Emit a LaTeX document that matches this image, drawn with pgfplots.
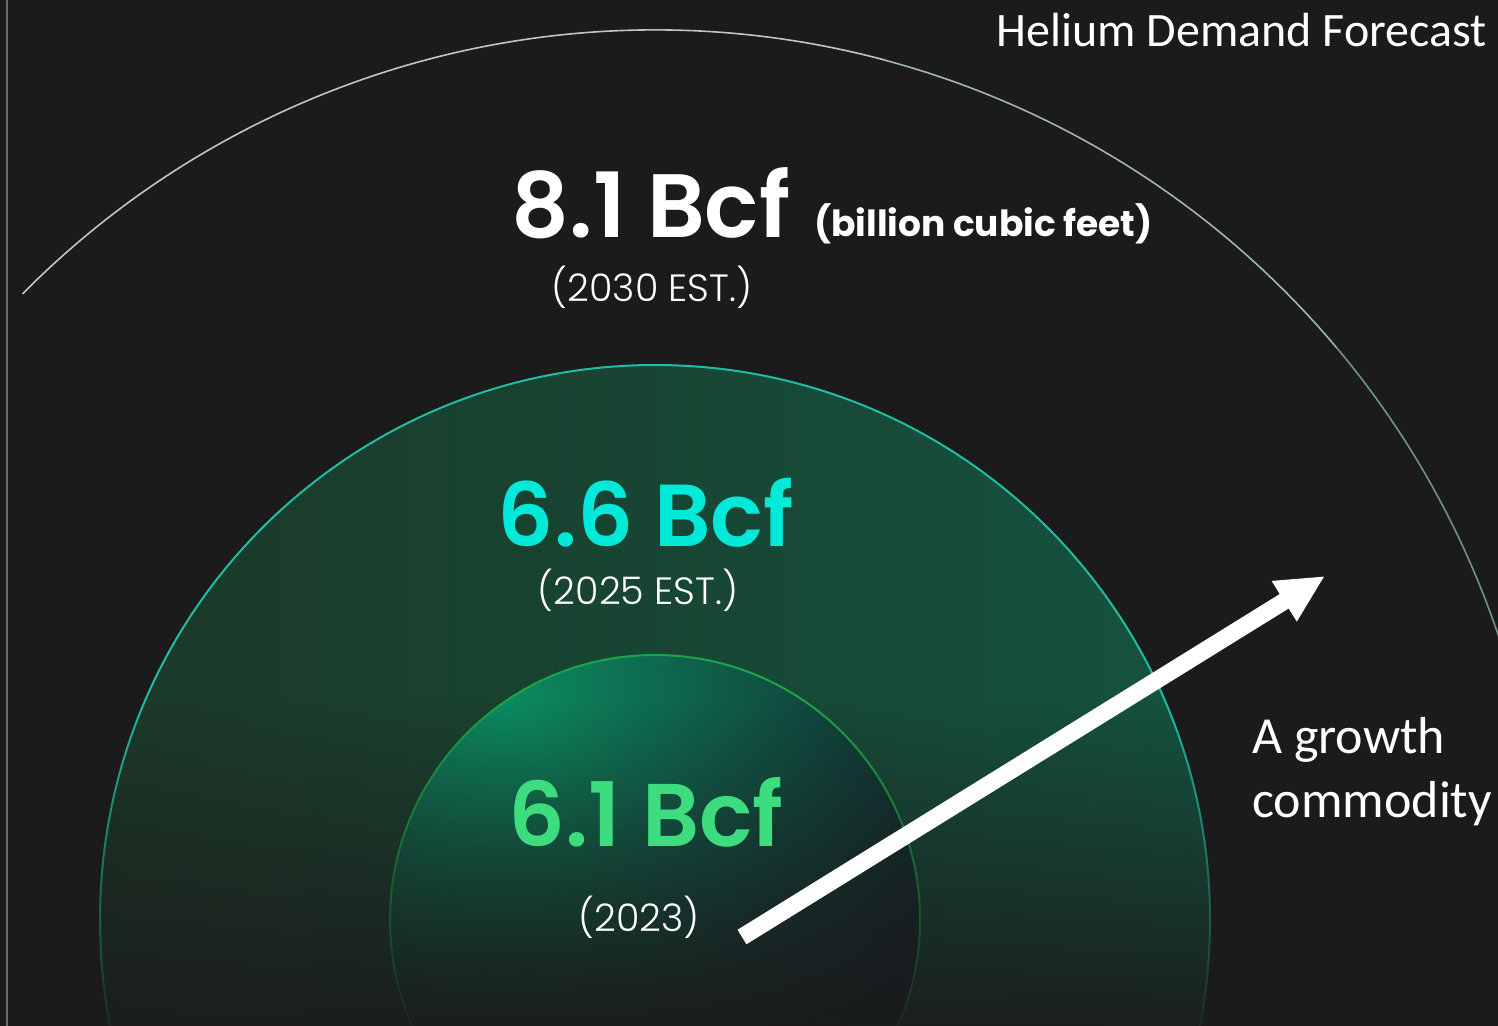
\documentclass[border=0pt]{standalone}
\usepackage{fontspec}
\setmainfont{Carlito}
\usepackage{pgfplots}
\pgfplotsset{compat=1.18}
\usepackage{pgfplotstable}
\usetikzlibrary{arrows.meta,fadings}
\IfFontExistsTF{Poppins SemiBold}{\newfontfamily\popbold{Poppins SemiBold}}{\newfontfamily\popbold{Poppins}[UprightFont={* Bold}]}
\IfFontExistsTF{Poppins Light}{\newfontfamily\poplight{Poppins Light}}{\newfontfamily\poplight{Poppins}}
\newfontfamily\popb{Poppins}[UprightFont={* Bold}]
\definecolor{bgc}{HTML}{1B1B1B}
\definecolor{cyanT}{HTML}{00E9D9}
\definecolor{greenT}{HTML}{3DDC7F}
\definecolor{midL}{HTML}{1C3828}
\definecolor{midR}{HTML}{14533F}
\definecolor{midStroke}{HTML}{1FBDA4}
\definecolor{inHi}{HTML}{0B8C61}
\definecolor{inLo}{HTML}{13232A}
\definecolor{inStroke}{HTML}{1CA548}
\definecolor{arcA}{HTML}{BAC8C2}
\definecolor{arcB}{HTML}{A0B7AD}
\definecolor{arcC}{HTML}{6F9584}
\definecolor{edgeL}{HTML}{6A6A6A}
\tikzfading[name=botfade, top color=transparent!100, bottom color=transparent!8]
% helium demand: year, Bcf, drawn radius (px)
\pgfplotstableread{
year value radius
2023 6.1 265
2025 6.6 555
2030 8.1 890
}\demand
\begin{document}
\begin{tikzpicture}
\fill[bgc] (-6pt,-6pt) rectangle (1504pt,1031pt);
\begin{axis}[name=ax, at={(0,0)}, anchor=south west,
  width=1498pt, height=1025pt, scale only axis,
  xmin=0, xmax=1498, ymin=0, ymax=1025, y dir=reverse,
  axis lines=none, clip=true]
\addplot[draw=none, mark=none] coordinates {(655,920)};
\fill[bgc] (axis cs:-5,-5) rectangle (axis cs:1503,1030);
% 2025 circle
\begin{scope}
\clip (axis cs:655,920) circle[radius=555pt];
\shade[left color=midL, right color=midR] (axis cs:100,365) rectangle (axis cs:1210,1025);
\end{scope}
\draw[midStroke, line width=2pt] (axis cs:655,920) circle[radius=555pt];
% 2023 circle
\begin{scope}
\clip (axis cs:655,920) circle[radius=265pt];
\fill[inLo] (axis cs:380,640) rectangle (axis cs:930,1025);
\shade[inner color=inHi, outer color=inLo] (axis cs:505,705) circle[radius=470pt];
\end{scope}
\draw[inStroke, line width=2pt] (axis cs:655,920) circle[radius=265pt];
% bottom fade
\fill[bgc, path fading=botfade] (axis cs:-5,700) rectangle (axis cs:1503,1030);
% 2030 arc
\draw[arcA, line width=1.6pt] (axis cs:22.5,293.9) arc[start angle=135.3, end angle=75, radius=890pt];
\draw[arcB, line width=1.6pt] (axis cs:885.3,60.3) arc[start angle=75, end angle=40, radius=890pt];
\draw[arcC, line width=1.6pt] (axis cs:1336.8,347.9) arc[start angle=40, end angle=-5, radius=890pt];
\draw[edgeL, line width=2pt] (axis cs:7,-5) -- (axis cs:7,1030);
% arrow
\draw[white, line width=17pt, -{Triangle[length=48pt, width=44pt]}] (axis cs:742,937) -- (axis cs:1325,576);
% texts
\node[anchor=base east, text=white, inner sep=0pt, font=\fontsize{48}{58}\selectfont] at (axis cs:1487,47) {Helium Demand Forecast};
\node[anchor=base west, text=white, inner sep=0pt, font=\fontsize{52}{62}\selectfont] at (axis cs:1252,753) {A growth};
\node[anchor=base west, text=white, inner sep=0pt, font=\fontsize{52}{62}\selectfont] at (axis cs:1252,817) {commodity};
\node[anchor=base, text=white, inner sep=0pt, font=\popbold\fontsize{90}{100}\selectfont] at (axis cs:651,237) {8.1 Bcf};
\node[anchor=base west, text=white, inner sep=0pt, font=\popb\fontsize{36}{42}\selectfont] at (axis cs:814,236) {(billion cubic feet)};
\node[anchor=base, text=white, inner sep=0pt, font=\poplight\fontsize{38}{46}\selectfont] at (axis cs:652,301) {(2030 EST.)};
\node[anchor=base, text=cyanT, inner sep=0pt, font=\popbold\fontsize{88}{100}\selectfont] at (axis cs:646,546) {6.6 Bcf};
\node[anchor=base, text=white, inner sep=0pt, font=\poplight\fontsize{38}{46}\selectfont] at (axis cs:638,604) {(2025 EST.)};
\node[anchor=base, text=greenT, inner sep=0pt, font=\popbold\fontsize{89}{100}\selectfont] at (axis cs:646,846) {6.1 Bcf};
\node[anchor=base, text=white, inner sep=0pt, font=\poplight\fontsize{38}{46}\selectfont] at (axis cs:639,931) {(2023)};
\end{axis}
\pgfresetboundingbox
\path[use as bounding box] (ax.south west) rectangle (ax.north east);
\end{tikzpicture}
\end{document}
